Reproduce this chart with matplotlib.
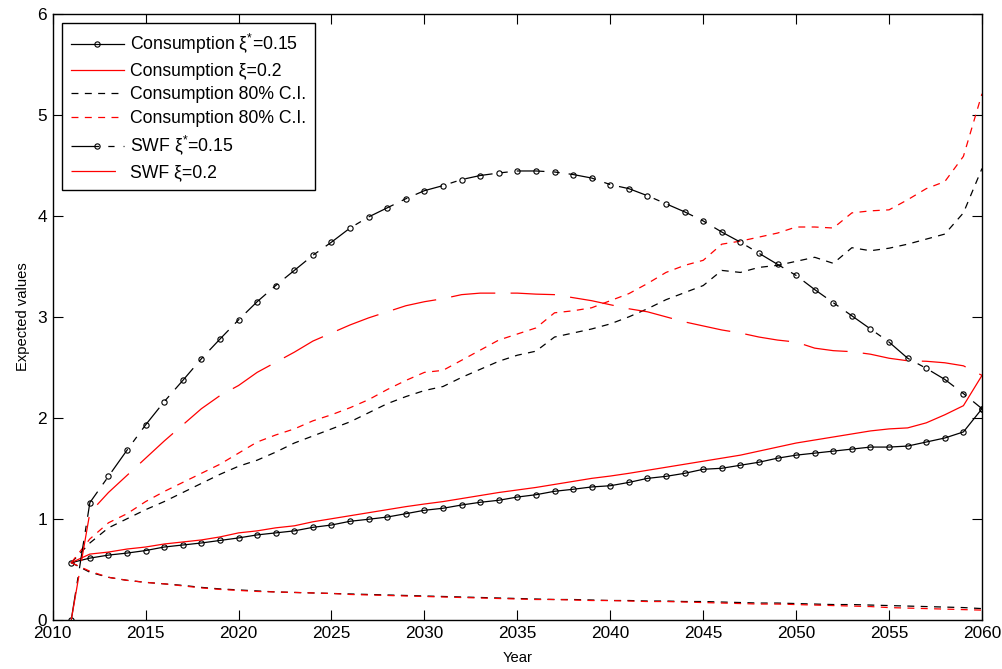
import matplotlib
matplotlib.use("Agg")
import matplotlib.pyplot as plt

plt.rcParams['font.family'] = ['Liberation Sans', 'DejaVu Sans']
plt.rcParams['mathtext.fontset'] = 'custom'
plt.rcParams['mathtext.rm'] = 'Liberation Sans'
plt.rcParams['mathtext.it'] = 'Liberation Sans:italic'
plt.rcParams['mathtext.bf'] = 'Liberation Sans:bold'
plt.rcParams['lines.scale_dashes'] = False

years = list(range(2011, 2061))

cons_015 = [0.565, 0.61, 0.64, 0.66, 0.685, 0.72, 0.74, 0.76, 0.785, 0.81,
            0.84, 0.86, 0.88, 0.915, 0.938, 0.975, 0.995, 1.017, 1.05, 1.084,
            1.104, 1.136, 1.163, 1.183, 1.215, 1.238, 1.272, 1.292, 1.315, 1.327,
            1.36, 1.40, 1.42, 1.45, 1.49, 1.50, 1.53, 1.56, 1.60, 1.63,
            1.65, 1.67, 1.69, 1.71, 1.71, 1.72, 1.76, 1.80, 1.86, 2.09]

cons_02 = [0.565, 0.65, 0.67, 0.70, 0.72, 0.75, 0.77, 0.79, 0.82, 0.86,
           0.88, 0.91, 0.93, 0.97, 1.0, 1.03, 1.06, 1.09, 1.12, 1.146,
           1.17, 1.20, 1.23, 1.26, 1.285, 1.31, 1.34, 1.37, 1.40, 1.423,
           1.45, 1.48, 1.51, 1.54, 1.57, 1.60, 1.63, 1.67, 1.71, 1.75,
           1.78, 1.81, 1.84, 1.87, 1.89, 1.90, 1.95, 2.03, 2.12, 2.42]

ci_hi_015 = [0.565, 0.76, 0.91, 1.00, 1.09, 1.17, 1.26, 1.35, 1.44, 1.52,
             1.58, 1.66, 1.75, 1.82, 1.89, 1.96, 2.05, 2.14, 2.21, 2.27,
             2.31, 2.40, 2.48, 2.56, 2.62, 2.66, 2.80, 2.84, 2.88, 2.93,
             3.00, 3.08, 3.17, 3.24, 3.31, 3.46, 3.44, 3.49, 3.51, 3.55,
             3.59, 3.53, 3.685, 3.655, 3.68, 3.72, 3.77, 3.82, 4.03, 4.47]

ci_lo_015 = [0.565, 0.47, 0.42, 0.39, 0.37, 0.355, 0.34, 0.32, 0.305, 0.295,
             0.285, 0.275, 0.27, 0.265, 0.26, 0.255, 0.25, 0.245, 0.24, 0.235,
             0.23, 0.225, 0.22, 0.215, 0.21, 0.205, 0.20, 0.20, 0.195, 0.19,
             0.19, 0.185, 0.185, 0.18, 0.18, 0.175, 0.17, 0.165, 0.165, 0.16,
             0.155, 0.15, 0.15, 0.145, 0.14, 0.135, 0.13, 0.125, 0.12, 0.11]

ci_hi_02 = [0.565, 0.80, 0.96, 1.05, 1.17, 1.27, 1.36, 1.45, 1.54, 1.65,
            1.76, 1.83, 1.89, 1.97, 2.03, 2.10, 2.18, 2.28, 2.37, 2.45,
            2.47, 2.57, 2.67, 2.77, 2.83, 2.89, 3.04, 3.06, 3.09, 3.16,
            3.23, 3.33, 3.44, 3.51, 3.56, 3.72, 3.75, 3.79, 3.83, 3.89,
            3.89, 3.88, 4.03, 4.05, 4.06, 4.16, 4.27, 4.34, 4.59, 5.21]

ci_lo_02 = [0.565, 0.48, 0.42, 0.39, 0.37, 0.355, 0.335, 0.315, 0.30, 0.29,
            0.28, 0.275, 0.27, 0.265, 0.26, 0.25, 0.245, 0.24, 0.235, 0.23,
            0.225, 0.22, 0.215, 0.21, 0.205, 0.20, 0.20, 0.195, 0.19, 0.19,
            0.185, 0.18, 0.18, 0.175, 0.17, 0.165, 0.16, 0.155, 0.155, 0.15,
            0.145, 0.14, 0.135, 0.13, 0.12, 0.115, 0.11, 0.105, 0.10, 0.095]

swf_015 = [0.0, 1.16, 1.42, 1.68, 1.93, 2.16, 2.37, 2.585, 2.78, 2.97,
           3.15, 3.31, 3.46, 3.61, 3.74, 3.88, 3.99, 4.08, 4.17, 4.25,
           4.30, 4.36, 4.40, 4.425, 4.445, 4.445, 4.435, 4.41, 4.375, 4.31,
           4.27, 4.20, 4.12, 4.04, 3.95, 3.84, 3.74, 3.63, 3.52, 3.41,
           3.27, 3.14, 3.01, 2.88, 2.75, 2.59, 2.49, 2.38, 2.24, 2.09]

swf_02 = [0.0, 1.06, 1.26, 1.43, 1.60, 1.77, 1.93, 2.09, 2.22, 2.32,
          2.45, 2.55, 2.65, 2.76, 2.84, 2.92, 2.99, 3.05, 3.11, 3.15,
          3.18, 3.22, 3.235, 3.235, 3.235, 3.225, 3.22, 3.19, 3.16, 3.12,
          3.08, 3.05, 3.00, 2.95, 2.91, 2.87, 2.84, 2.80, 2.77, 2.75,
          2.69, 2.665, 2.655, 2.63, 2.59, 2.565, 2.56, 2.545, 2.515, 2.42]

labels = ['Consumption ξ$^{*}$=0.15', 'Consumption ξ=0.2',
          'Consumption 80% C.I.', 'Consumption 80% C.I.',
          'SWF ξ$^{*}$=0.15', 'SWF ξ=0.2']

W, H = 1003, 669
fig = plt.figure(figsize=(W / 100, H / 100), dpi=100)
L, R, T, B = 52.7, 982.0, 14.0, 619.7
ax = fig.add_axes([L / W, 1 - B / H, (R - L) / W, (B - T) / H])

lw = 0.9
ci_dash = (0, (5.0, 4.6))
swf_dashdot = (0, (20.0, 6.5, 4.5, 6.5))
swf_long = (0, (32.0, 11.0))
mk = dict(marker='o', markersize=3.8, markerfacecolor='none',
          markeredgewidth=0.8)

h1, = ax.plot(years, cons_015, color='black', lw=lw, ls='-', **mk)
h2, = ax.plot(years, cons_02, color='red', lw=lw, ls='-')
h3, = ax.plot(years, ci_hi_015, color='black', lw=lw, ls=ci_dash)
ax.plot(years, ci_lo_015, color='black', lw=lw, ls=ci_dash)
h4, = ax.plot(years, ci_hi_02, color='red', lw=lw, ls=ci_dash)
ax.plot(years, ci_lo_02, color='red', lw=lw, ls=ci_dash)
h5, = ax.plot(years, swf_015, color='black', lw=lw, ls=swf_dashdot, **mk)
h6, = ax.plot(years, swf_02, color='red', lw=lw, ls=swf_long)

ax.set_xlim(2010, 2060)
ax.set_ylim(0, 6)
ax.set_xticks(list(range(2010, 2061, 5)))
ax.set_yticks(list(range(0, 7)))
ax.tick_params(direction='in', length=7, width=0.8, top=True, right=True,
               labelsize=12.4, colors='black')
ax.tick_params(axis='x', pad=4.5)
ax.tick_params(axis='y', pad=4)
for s in ax.spines.values():
    s.set_linewidth(1.0)
    s.set_color('black')

ax.set_xlabel('Year', fontsize=10.6, labelpad=7)
ax.set_ylabel('Expected values', fontsize=10.6, labelpad=5)

leg = ax.legend([h1, h2, h3, h4, h5, h6], labels, loc='upper left',
                bbox_to_anchor=(0, 1), borderaxespad=0.52, fontsize=12.7,
                handlelength=3.0, handletextpad=0.38, labelspacing=0.38,
                borderpad=0.5, fancybox=False, framealpha=1,
                edgecolor='black', numpoints=1)
leg.get_frame().set_linewidth(1.0)

fig.savefig('out.png', dpi=100)
